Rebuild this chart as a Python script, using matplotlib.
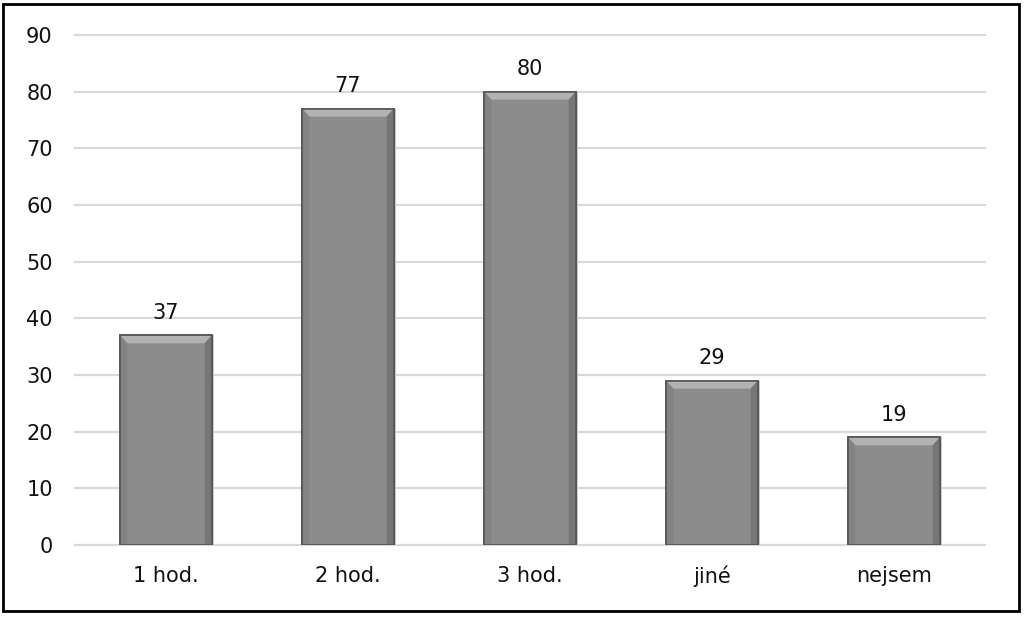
import matplotlib.pyplot as plt
from matplotlib.patches import Rectangle, Polygon
import numpy as np

categories = ["1 hod.", "2 hod.", "3 hod.", "jiné", "nejsem"]
values = [37, 77, 80, 29, 19]
y_ticks = [0, 10, 20, 30, 40, 50, 60, 70, 80, 90]

plt.rcParams["font.family"] = ["DejaVu Sans"]

fig = plt.figure(figsize=(10.24, 6.23), dpi=100)
ax = fig.add_axes([0.0732, 0.1252, 0.8887, 0.8186])

x = np.arange(len(categories))
width = 0.505

# Gridlines behind the bars (unclipped so 0 and 90 are full width)
for t in y_ticks:
    ax.axhline(t, color="#d9d9d9", linewidth=1.6, zorder=0, clip_on=False)

# Soft shadow on the right side
ax.bar(x + 0.012, values, width=width, color="#c8c8c8", zorder=1)
bars = ax.bar(x, values, width=width, color="#8c8c8c",
              edgecolor="#5a5a5a", linewidth=1.2, zorder=2)

# Bevel effect: lighter top edge, slightly darker sides
bevel_w = 0.04
bevel_h = 1.4
for xi, v in zip(x, values):
    left = xi - width / 2
    right = xi + width / 2
    top = Polygon([[left, v], [right, v], [right - bevel_w, v - bevel_h],
                   [left + bevel_w, v - bevel_h]], closed=True,
                  facecolor="#b2b2b2", edgecolor="none", zorder=3)
    ax.add_patch(top)
    lside = Polygon([[left, v], [left + bevel_w, v - bevel_h],
                     [left + bevel_w, 0], [left, 0]], closed=True,
                    facecolor="#838383", edgecolor="none", zorder=3)
    rside = Polygon([[right, v], [right - bevel_w, v - bevel_h],
                     [right - bevel_w, 0], [right, 0]], closed=True,
                    facecolor="#767676", edgecolor="none", zorder=3)
    ax.add_patch(lside)
    ax.add_patch(rside)
    ax.add_patch(Rectangle((left, 0), width, v, fill=False,
                           edgecolor="#555555", linewidth=1.2, zorder=4))
    ax.annotate(str(v), (xi, v), xytext=(0, 9), textcoords="offset points",
                ha="center", va="bottom", fontsize=15, color="#111111")

ax.set_xlim(-0.5, len(categories) - 0.5)
ax.set_ylim(0, 90)
ax.set_yticks(y_ticks)
ax.set_xticks(x)
ax.set_xticklabels(categories)
ax.tick_params(axis="both", length=0, labelsize=15, colors="#111111")
ax.tick_params(axis="y", pad=16)
ax.tick_params(axis="x", pad=15)
for s in ax.spines.values():
    s.set_visible(False)

# Outer black frame
fig.patches.append(Rectangle((0.003, 0.019), 0.992, 0.975, transform=fig.transFigure,
                             fill=False, edgecolor="black", linewidth=2))

fig.savefig("out.png", dpi=100, facecolor="white")
